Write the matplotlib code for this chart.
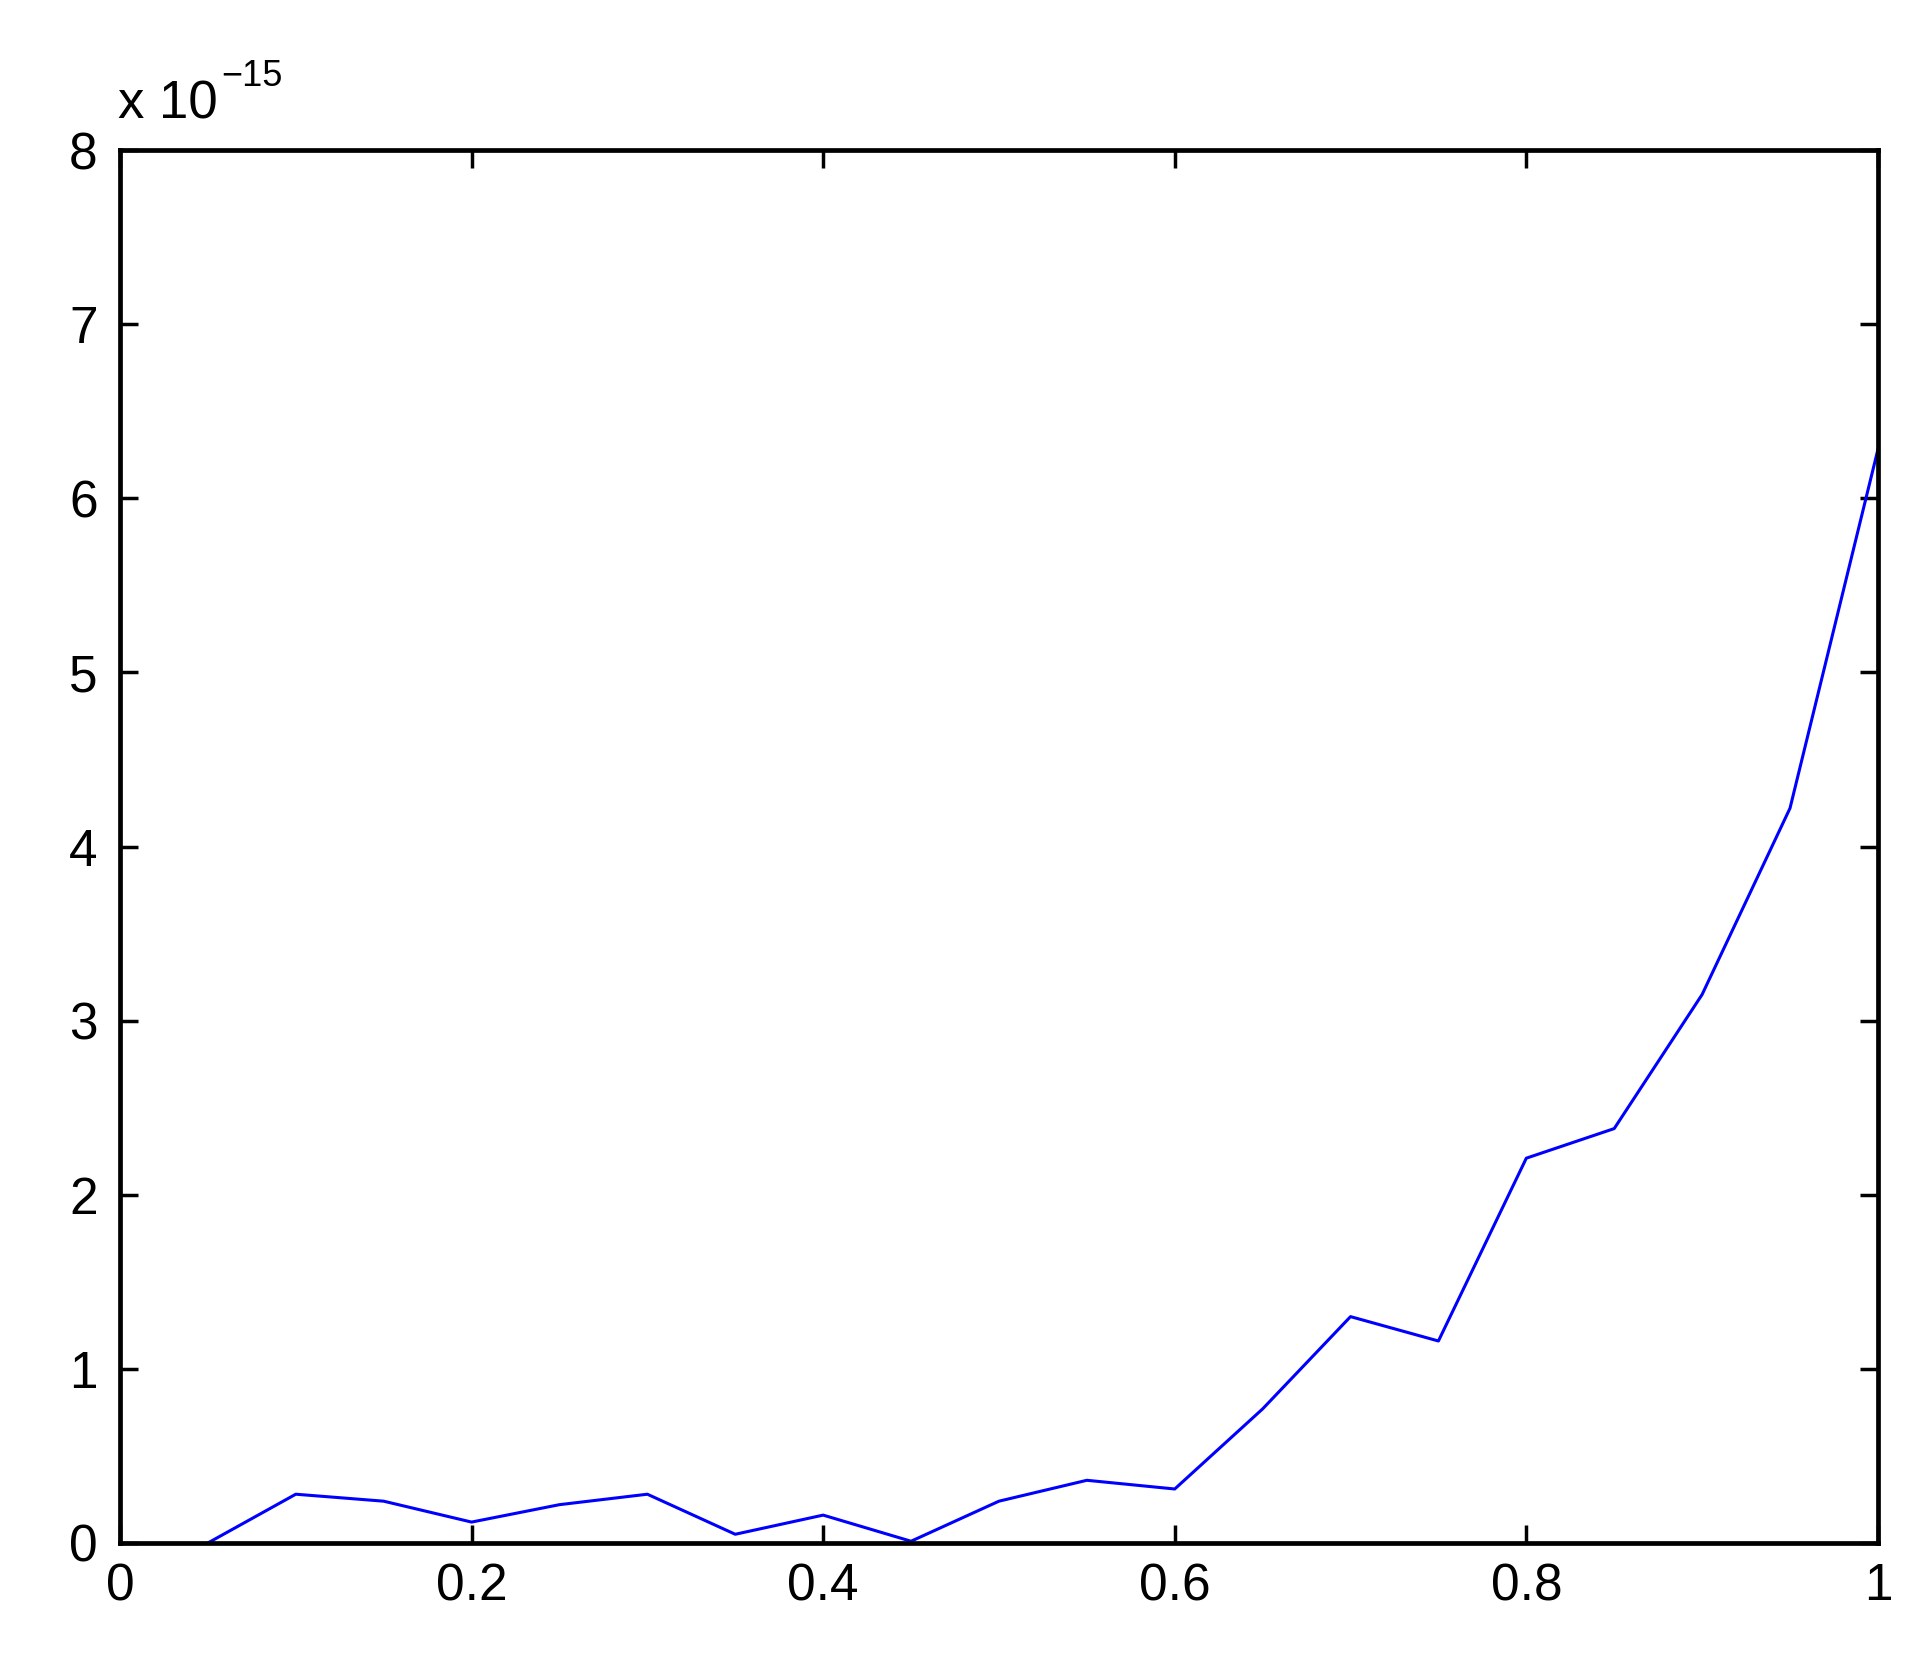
import numpy as np
from matplotlib import pyplot as plt
from matplotlib.ticker import FuncFormatter

# data (values in units of 1e-15)
x = [0.05, 0.10, 0.15, 0.20, 0.25, 0.30, 0.35, 0.40, 0.45, 0.50,
     0.55, 0.60, 0.65, 0.70, 0.75, 0.80, 0.85, 0.90, 0.95, 1.00]
err = [0.0, 0.28, 0.24, 0.12, 0.22, 0.28, 0.05, 0.16, 0.01, 0.24,
       0.36, 0.31, 0.77, 1.30, 1.16, 2.21, 2.38, 3.15, 4.22, 6.28]
scale = 1e-15
xticks = [0, 0.2, 0.4, 0.6, 0.8, 1]
xticklabels = ['0', '0.2', '0.4', '0.6', '0.8', '1']
yticks = [0, 1, 2, 3, 4, 5, 6, 7, 8]

plt.rcParams['font.family'] = ['Liberation Sans', 'DejaVu Sans']

fig = plt.figure(figsize=(19.32, 16.6), dpi=100, facecolor='white')
ax = fig.add_axes([0.0621, 0.0705, 0.9099, 0.8391])

ax.plot(x, np.array(err) * scale, color='#0000ff', linewidth=2.2)

ax.set_xlim(0, 1)
ax.set_ylim(0, 8 * scale)
ax.set_xticks(xticks)
ax.set_xticklabels(xticklabels)
ax.set_yticks([v * scale for v in yticks])
ax.yaxis.set_major_formatter(FuncFormatter(lambda v, p: '%g' % round(v / scale, 6)))

ax.tick_params(direction='in', length=13, width=2.5, labelsize=37,
               top=True, right=True, pad=14, colors='black')
ax.tick_params(axis='y', pad=16)
for s in ax.spines.values():
    s.set_linewidth(3.4)
    s.set_color('black')

# multiplier drawn by hand, like the original
ax.text(-0.001, 1.015, 'x 10', transform=ax.transAxes,
        fontsize=38, ha='left', va='bottom')
ax.text(0.0575, 1.04, '\u221215', transform=ax.transAxes,
        fontsize=26, ha='left', va='bottom')

fig.savefig('out.png', dpi=100, facecolor='white')
